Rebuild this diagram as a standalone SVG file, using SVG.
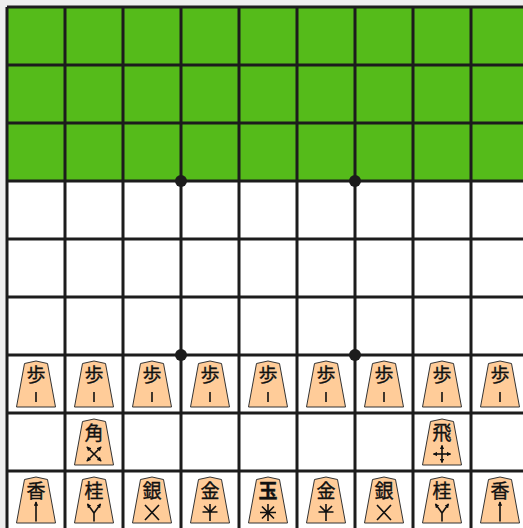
<svg xmlns="http://www.w3.org/2000/svg" width="523" height="528" viewBox="0 0 523 528">
<style>
.grid{stroke:#1c1c1c;stroke-width:3;fill:none}
.body{fill:#FFCC99;stroke:#333;stroke-width:1}
.k{font-family:"Noto Sans CJK JP","Noto Sans CJK SC",sans-serif;font-size:19px;text-anchor:middle;fill:#111;stroke:#111;stroke-width:0.35}
.mv{stroke:#111;stroke-width:1.6;fill:none}
.ar{stroke:#111;stroke-width:1.6;fill:none;marker-end:url(#ah)}
</style>
<defs>
<marker id="ah" viewBox="0 0 6 6" refX="5" refY="3" markerWidth="4.5" markerHeight="4.5" orient="auto" markerUnits="userSpaceOnUse"><path d="M0,0 L6,3 L0,6 z" fill="#111"/></marker>
<polygon id="pc" class="body" points="29,6 40.5,8.5 48.5,52 9.5,52 17.5,8.5"/>
</defs>
<rect width="523" height="528" fill="#eeeeee"/>
<rect x="7" y="7" width="530" height="530" fill="#ffffff"/>
<rect x="7" y="7" width="530" height="174" fill="#55BB1A"/>
<g id="connectors">
<path class="grid" d="M7,7V540M65,7V540M123,7V540M181,7V540M239,7V540M297,7V540M355,7V540M413,7V540M471,7V540M7,7H540M7,65H540M7,123H540M7,181H540M7,239H540M7,297H540M7,355H540M7,413H540M7,471H540"/>
<circle cx="181" cy="181" r="6" fill="#1c1c1c"/>
<circle cx="355" cy="181" r="6" fill="#1c1c1c"/>
<circle cx="181" cy="355" r="6" fill="#1c1c1c"/>
<circle cx="355" cy="355" r="6" fill="#1c1c1c"/>
</g>
<g id="p71" transform="translate(7,355)"><use href="#pc"/><text class="k" x="29" y="27">歩</text><path class="mv" d="M29,37V47"/></g>
<g id="p72" transform="translate(65,355)"><use href="#pc"/><text class="k" x="29" y="27">歩</text><path class="mv" d="M29,37V47"/></g>
<g id="p73" transform="translate(123,355)"><use href="#pc"/><text class="k" x="29" y="27">歩</text><path class="mv" d="M29,37V47"/></g>
<g id="p74" transform="translate(181,355)"><use href="#pc"/><text class="k" x="29" y="27">歩</text><path class="mv" d="M29,37V47"/></g>
<g id="p75" transform="translate(239,355)"><use href="#pc"/><text class="k" x="29" y="27">歩</text><path class="mv" d="M29,37V47"/></g>
<g id="p76" transform="translate(297,355)"><use href="#pc"/><text class="k" x="29" y="27">歩</text><path class="mv" d="M29,37V47"/></g>
<g id="p77" transform="translate(355,355)"><use href="#pc"/><text class="k" x="29" y="27">歩</text><path class="mv" d="M29,37V47"/></g>
<g id="p78" transform="translate(413,355)"><use href="#pc"/><text class="k" x="29" y="27">歩</text><path class="mv" d="M29,37V47"/></g>
<g id="p79" transform="translate(471,355)"><use href="#pc"/><text class="k" x="29" y="27">歩</text><path class="mv" d="M29,37V47"/></g>
<g id="bishop" transform="translate(65,413)"><use href="#pc"/><text class="k" x="29" y="27">角</text><path class="ar" d="M29,41L22,34"/><path class="ar" d="M29,41L36,34"/><path class="ar" d="M29,41L22,48"/><path class="ar" d="M29,41L36,48"/></g>
<g id="rook" transform="translate(413,413)"><use href="#pc"/><text class="k" x="29" y="27">飛</text><path class="ar" d="M29,41V32.5"/><path class="ar" d="M29,41V49.5"/><path class="ar" d="M29,41H20.5"/><path class="ar" d="M29,41H37.5"/></g>
<g id="p91" transform="translate(7,471)"><use href="#pc"/><text class="k" x="29" y="27">香</text><path class="ar" d="M29,50.5V31"/></g>
<g id="p92" transform="translate(65,471)"><use href="#pc"/><text class="k" x="29" y="27">桂</text><path class="mv" d="M29,50.5V42"/><path class="ar" d="M29,42L22.5,33"/><path class="ar" d="M29,42L35.5,33"/></g>
<g id="p93" transform="translate(123,471)"><use href="#pc"/><text class="k" x="29" y="27">銀</text><path class="mv" d="M22,34L36,49M36,34L22,49"/></g>
<g id="p94" transform="translate(181,471)"><use href="#pc"/><text class="k" x="29" y="27">金</text><path class="mv" d="M29,33V50M21.5,41H36.5M29,41L23,35M29,41L35,35"/></g>
<g id="p95" transform="translate(239,471)"><use href="#pc"/><text class="k" x="29" y="27" font-weight="bold">玉</text><path class="mv" d="M29,33V50M21,41.5H37M23,35.5L35,47.5M35,35.5L23,47.5"/></g>
<g id="p96" transform="translate(297,471)"><use href="#pc"/><text class="k" x="29" y="27">金</text><path class="mv" d="M29,33V50M21.5,41H36.5M29,41L23,35M29,41L35,35"/></g>
<g id="p97" transform="translate(355,471)"><use href="#pc"/><text class="k" x="29" y="27">銀</text><path class="mv" d="M22,34L36,49M36,34L22,49"/></g>
<g id="p98" transform="translate(413,471)"><use href="#pc"/><text class="k" x="29" y="27">桂</text><path class="mv" d="M29,50.5V42"/><path class="ar" d="M29,42L22.5,33"/><path class="ar" d="M29,42L35.5,33"/></g>
<g id="p99" transform="translate(471,471)"><use href="#pc"/><text class="k" x="29" y="27">香</text><path class="ar" d="M29,50.5V31"/></g>
</svg>
